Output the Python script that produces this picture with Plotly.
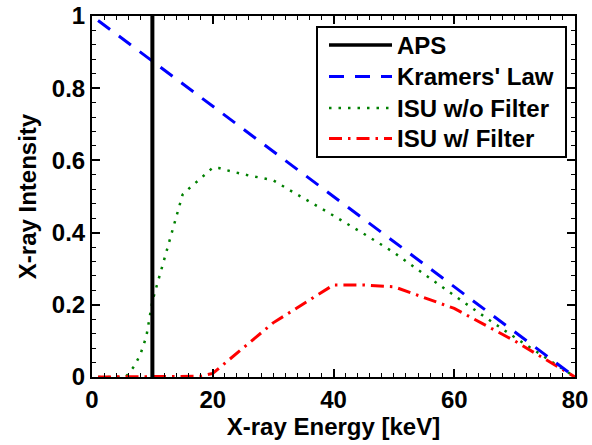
import plotly.graph_objects as go

# ---------------- data ----------------
aps_energy = [10, 10]
aps_intensity = [0, 1]

kramers_energy = [1, 80]
kramers_intensity = [0.9875, 0.0]

isu_nofilter_energy = [1, 5.5, 6, 7, 8, 9, 10, 11, 12, 13, 14, 15, 16, 17, 18, 19, 20, 21, 22,
                       24, 26, 28, 30, 32, 35, 38, 40, 45, 50, 55, 60, 65, 70, 75, 80]
isu_nofilter_intensity = [0, 0, 0.008, 0.03, 0.062, 0.112, 0.21, 0.27, 0.33, 0.39, 0.445, 0.505,
                          0.521, 0.535, 0.55, 0.565, 0.58, 0.579, 0.574, 0.565, 0.558, 0.552,
                          0.545, 0.525, 0.496, 0.468, 0.447, 0.397, 0.345, 0.285, 0.225, 0.167,
                          0.11, 0.055, 0.0]

isu_filter_energy = [1, 17, 18, 20, 30, 40, 45, 50, 60, 70, 80]
isu_filter_intensity = [0, 0, 0.002, 0.01, 0.15, 0.255, 0.255, 0.25, 0.19, 0.10, 0.0]

series_names = ["APS", "Kramers' Law", "ISU w/o Filter", "ISU w/ Filter"]
x_ticks = [0, 20, 40, 60, 80]
y_ticks = [0, 0.2, 0.4, 0.6, 0.8, 1]
y_tick_text = ["0", "0.2", "0.4", "0.6", "0.8", "1"]

# ---------------- styles ----------------
FONT = "Liberation Sans"
FS = 24
styles = [
    dict(color="black", width=4, dash="solid"),
    dict(color="rgb(0,0,255)", width=3, dash="15px,11px"),
    dict(color="rgb(0,128,0)", width=2.5, dash="2.5px,7px"),
    dict(color="rgb(255,0,0)", width=3, dash="13px,6px,2.5px,6px"),
]

W, H = 592, 445
L, R, T, B = 92, 17, 16, 68
PW, PH = W - L - R, H - T - B


def px_x(p):
    return (p - L) / PW


def px_y(p):
    return (H - B - p) / PH


fig = go.Figure()
data = [
    (aps_energy, aps_intensity),
    (kramers_energy, kramers_intensity),
    (isu_nofilter_energy, isu_nofilter_intensity),
    (isu_filter_energy, isu_filter_intensity),
]
order = [2, 3, 1, 0]
for i in order:
    xs, ys = data[i]
    fig.add_trace(go.Scatter(x=xs, y=ys, mode="lines", name=series_names[i],
                             line=styles[i], showlegend=False))

# custom legend (box, samples, labels)
shapes = [dict(type="rect", xref="paper", yref="paper",
               x0=px_x(317), x1=px_x(566), y0=px_y(157), y1=px_y(27),
               line=dict(color="black", width=2), fillcolor="white", layer="above")]
annotations = []
row_y = [45, 76.5, 108, 138.5]
for i, name in enumerate(series_names):
    st = dict(styles[i])
    if i == 0:
        st["width"] = 3.5
    shapes.append(dict(type="line", xref="paper", yref="paper",
                       x0=px_x(329), x1=px_x(392), y0=px_y(row_y[i]), y1=px_y(row_y[i]),
                       line=st, layer="above"))
    annotations.append(dict(text=name, xref="paper", yref="paper", x=px_x(395), y=px_y(row_y[i]),
                            xanchor="left", yanchor="middle", showarrow=False,
                            font=dict(family=FONT, size=FS, color="black", weight="bold")))

axis_common = dict(showline=True, linewidth=2, linecolor="black", mirror="allticks",
                   ticks="inside", ticklen=8, tickwidth=1.5, tickcolor="black",
                   showgrid=False, zeroline=False, automargin=False,
                   tickfont=dict(family=FONT, size=FS, color="black", weight="bold"))

fig.update_xaxes(range=[0, 80], tickvals=x_ticks,
                 minor=dict(dtick=2, ticks="inside", ticklen=4, tickwidth=1, tickcolor="black"),
                 title=dict(text="X-ray Energy [keV]", standoff=6,
                            font=dict(family=FONT, size=FS, color="black", weight="bold")),
                 **axis_common)
fig.update_yaxes(range=[0, 1], tickvals=y_ticks, ticktext=y_tick_text,
                 minor=dict(dtick=0.04, ticks="inside", ticklen=4, tickwidth=1, tickcolor="black"),
                 title=dict(text="X-ray Intensity", standoff=8,
                            font=dict(family=FONT, size=FS, color="black", weight="bold")),
                 **axis_common)

fig.update_layout(width=W, height=H, margin=dict(l=L, r=R, t=T, b=B, pad=0),
                  plot_bgcolor="white", paper_bgcolor="white",
                  shapes=shapes, annotations=annotations, showlegend=False)

fig.write_html("out.html")
